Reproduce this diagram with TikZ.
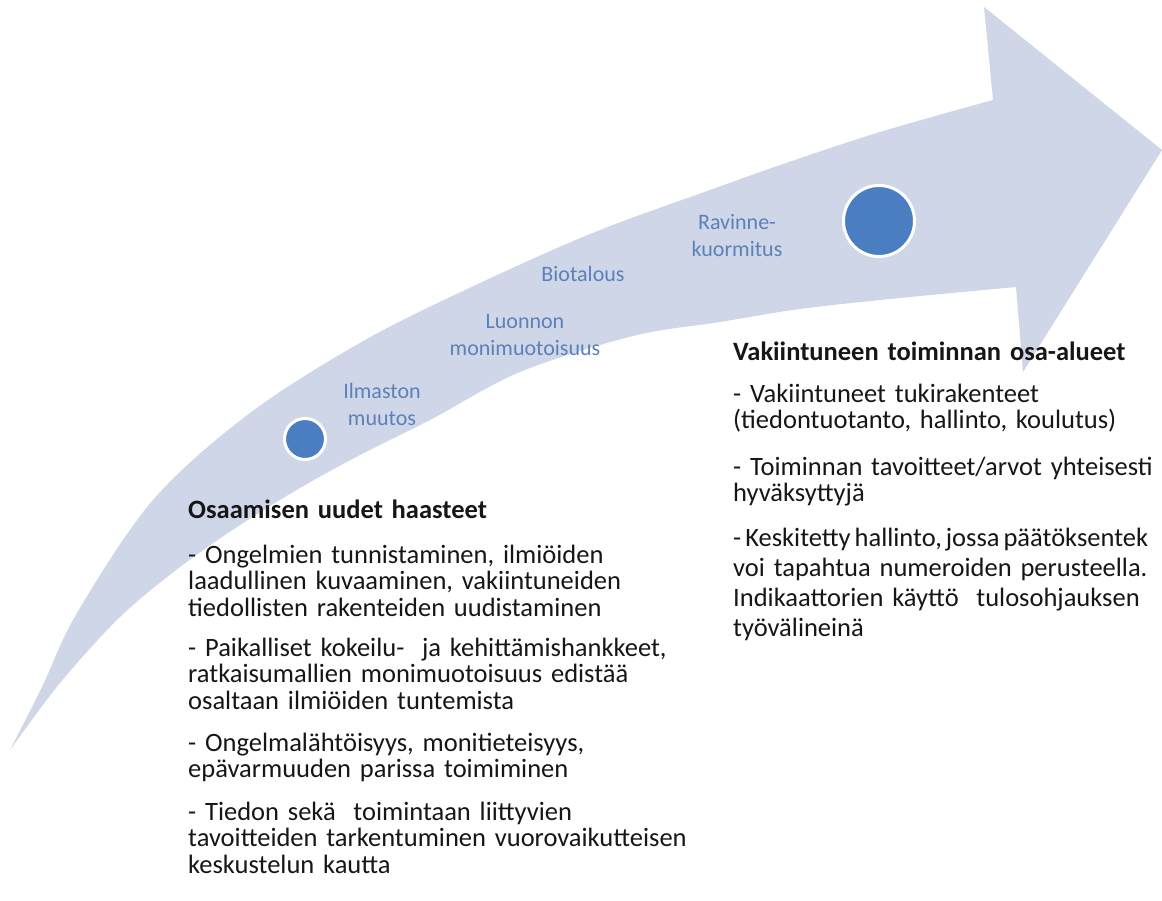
\documentclass[tikz,border=0pt]{standalone}
\usepackage{fontspec}
\setmainfont{Carlito}
\definecolor{arrowfill}{RGB}{206,214,232}
\definecolor{dotblue}{RGB}{74,126,193}
\definecolor{labelblue}{RGB}{92,128,184}
\definecolor{bodytext}{RGB}{22,22,22}
\begin{document}
\begin{tikzpicture}[x=1pt,y=-1pt,
  lbl/.style={text=labelblue, font=\fontsize{22}{27.5}\selectfont, align=center, text width=220pt, anchor=base, inner sep=0pt},
  body/.style={text=bodytext, font=\fontsize{26.5}{26.7}\selectfont, align=left, text width=600pt, anchor=base west, inner sep=0pt},
  bodyr/.style={body, text width=520pt},
  bodyw/.style={body, text width=520pt, font=\fontsize{26.5}{30}\selectfont},
  dot/.style={circle, fill=dotblue, draw=white, line width=3pt, inner sep=0pt}
]
\clip (0,0) rectangle (1162,900);
\fill[white] (0,0) rectangle (1162,900);

% curved arrow
\fill[arrowfill]
  plot[smooth, tension=0.55] coordinates {(10,750) (42,687) (77,613) (153,500) (250,413) (365,340) (480,283) (595,232) (710,190) (786,163) (880,132) (993,100)}
  -- (984,7) -- (1162,150) -- (1023,372) -- (1016,287)
  -- plot[smooth, tension=0.55] coordinates {(1016,287) (900,298) (800,309) (720,322) (633,336) (520,372) (430,420) (360,455) (300,488) (240,525) (180,567) (120,617) (60,683) (10,750)}
  -- cycle;

% dots
\node[dot, minimum size=41pt] (d1) at (305,439) {};
\node[dot, minimum size=71pt] (d2) at (879,221) {};

% labels on the arrow
\node[lbl] (l1) at (382,398) {Ilmaston\\muutos};
\node[lbl] (l2) at (525,328) {Luonnon\\monimuotoisuus};
\node[lbl] (l3) at (583,281) {Biotalous};
\node[lbl] (l4) at (737,229) {Ravinne-\\kuormitus};

% left column
\node[body] (t1) at (188,518) {\bfseries Osaamisen uudet haasteet};
\node[body] (p1) at (188,563) {- Ongelmien tunnistaminen, ilmiöiden\\laadullinen kuvaaminen, vakiintuneiden\\tiedollisten rakenteiden uudistaminen};
\node[body] (p2) at (188,656) {- Paikalliset kokeilu-~ ja kehittämishankkeet,\\ratkaisumallien monimuotoisuus edistää\\osaltaan ilmiöiden tuntemista};
\node[body] (p3) at (188,751) {- Ongelmalähtöisyys, monitieteisyys,\\epävarmuuden parissa toimiminen};
\node[body] (p4) at (188,820) {- Tiedon sekä~ toimintaan liittyvien\\tavoitteiden tarkentuminen vuorovaikutteisen\\keskustelun kautta};

% right column
\node[bodyr] (t2) at (733,360) {\bfseries Vakiintuneen toiminnan osa-alueet};
\node[bodyr] (q1) at (733,402) {- Vakiintuneet tukirakenteet\\(tiedontuotanto, hallinto, koulutus)};
\node[bodyr] (q2) at (733,475) {- Toiminnan tavoitteet/arvot yhteisesti\\hyväksyttyjä};
\node[bodyw] (q3) at (733,546) {{\spaceskip=0.15em - Keskitetty hallinto, jossa päätöksentek}\\voi tapahtua numeroiden perusteella.\\Indikaattorien käyttö~ tulosohjauksen\\työvälineinä};
\end{tikzpicture}
\end{document}
